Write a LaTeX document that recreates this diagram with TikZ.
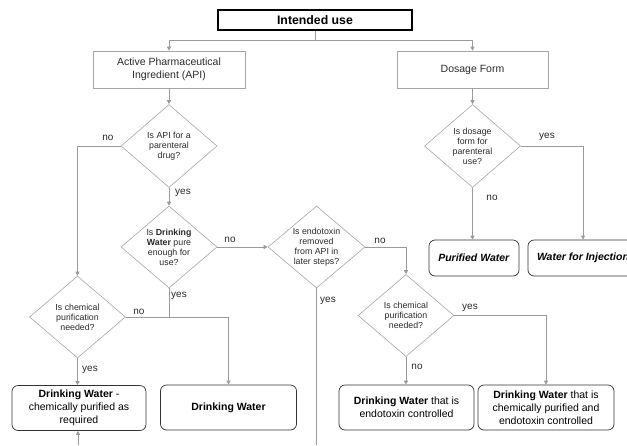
\documentclass[tikz,border=0pt]{standalone}
\usepackage{fontspec}
\setmainfont{Liberation Sans}
\usetikzlibrary{shapes.geometric,arrows.meta}

\definecolor{lineclr}{HTML}{9A9A9A}
\definecolor{boxclr}{HTML}{A6A6A6}
\definecolor{txtclr}{HTML}{2A2A2A}

\tikzset{
  startbox/.style={draw=black, line width=1.6pt, minimum width=194pt, minimum height=20pt,
    inner sep=0pt, font=\fontsize{12.3}{14}\selectfont\bfseries, text=black},
  catbox/.style={draw=boxclr, line width=0.6pt, minimum height=37pt, inner sep=0pt,
    align=center, font=\fontsize{10.5}{13}\selectfont, text=txtclr},
  dia/.style={diamond, draw=boxclr, line width=0.6pt, minimum width=96pt, minimum height=82pt,
    aspect=1.17, inner sep=0pt, align=center, font=\fontsize{8.8}{10}\selectfont, text=txtclr},
  result/.style={draw=black!80, line width=0.7pt, rounded corners=6pt, minimum height=45pt,
    inner sep=0pt, align=center, font=\fontsize{10.5}{13}\selectfont, text=black},
  conn/.style={draw=lineclr, line width=0.7pt},
  arr/.style={conn, -{Triangle[length=4pt,width=4pt]}},
  lbl/.style={font=\fontsize{10}{12}\selectfont, text=txtclr, inner sep=0pt}
}

\begin{document}
\begin{tikzpicture}[x=1pt,y=-1pt]
\useasboundingbox (0,0) rectangle (627,445);
\clip (0,0) rectangle (627,445);

% top of the tree
\node[startbox] (use) at (315,20) {Intended use};
\coordinate (split) at (315,40);

\node[catbox, minimum width=152pt] (api) at (169,69.5) {Active Pharmaceutical\\Ingredient (API)};
\node[catbox, minimum width=151pt] (dose) at (472.5,69.5) {Dosage Form};

% decisions
\node[dia, minimum height=83pt] (dapi) at (169,146) {Is API for a\\parenteral\\drug?};
\node[dia] (ddw) at (169,247) {Is \textbf{Drinking}\\\textbf{Water} pure\\enough for\\use?};
\node[dia, minimum width=97pt] (dendo) at (316.5,247) {Is endotoxin\\removed\\from API in\\later steps?};
\node[dia] (dchem1) at (77.5,317) {Is chemical\\purification\\needed?};
\node[dia] (dchem2) at (406,315.5) {Is chemical\\purification\\needed?};
\node[dia, minimum height=83pt] (ddose) at (472.5,146) {Is dosage\\form for\\parenteral\\use?};

% outcomes
\node[result, minimum width=90pt, minimum height=36pt] (pw) at (474,258)
  {\textbf{\itshape Purified Water}};
\node[result, minimum width=110pt, minimum height=36pt] (wfi) at (583,258)
  {\textbf{\itshape Water for Injection}};
\node[result, minimum width=134pt] (dwchem) at (79,408)
  {\textbf{Drinking Water} -\\chemically purified as\\required};
\node[result, minimum width=136pt] (dw) at (228.5,407.5) {\textbf{Drinking Water}};
\node[result, minimum width=135pt] (dwendo) at (406.5,407.5)
  {\textbf{Drinking Water} that is\\endotoxin controlled};
\node[result, minimum width=136pt] (dwce) at (546,407.5)
  {\textbf{Drinking Water} that is\\chemically purified and\\endotoxin controlled};

% free ends at the lower edge
\coordinate (endoend) at (316.5,445);
\coordinate (feed) at (78,445);

% connectors
\draw[conn] (use.south) -- (split);
\draw[arr] (split) -| (api.north);
\draw[arr] (split) -| (dose.north);
\draw[arr] (api.south) -- (dapi.north);
\draw[arr] (dose.south) -- (ddose.north);

\draw[arr] (dapi.west) -| (dchem1.north);
\draw[arr] (dapi.south) -- (ddw.north);
\draw[arr] (ddw.east) -- (dendo.west);
\draw[conn] (ddw.south) -- (ddw.south |- dchem1.east);
\draw[arr] (dchem1.east) -| (dw.north);
\draw[arr] (dchem1.south) -- (dchem1.south |- dwchem.north);
\draw[arr] (feed) -- (feed |- dwchem.south);

\draw[arr] (dendo.east) -| (dchem2.north);
\draw[conn] (dendo.south) -- (endoend);
\draw[arr] (dchem2.east) -| (dwce.north);
\draw[arr] (dchem2.south) -- (dchem2.south |- dwendo.north);

\draw[arr] (ddose.east) -| (wfi.north);
\draw[arr] (ddose.south) -- (ddose.south |- pw.north);

% branch labels
\node[lbl] (l1) at (108,138) {no};
\node[lbl] (l2) at (183,193) {yes};
\node[lbl] (l3) at (230,240) {no};
\node[lbl] (l4) at (179,296) {yes};
\node[lbl] (l5) at (139,312) {no};
\node[lbl] (l6) at (90,370) {yes};
\node[lbl] (l7) at (380,241) {no};
\node[lbl] (l8) at (328,301) {yes};
\node[lbl] (l9) at (470,308) {yes};
\node[lbl] (l10) at (417,367) {no};
\node[lbl] (l11) at (547,137) {yes};
\node[lbl] (l12) at (492,198) {no};
\end{tikzpicture}
\end{document}
